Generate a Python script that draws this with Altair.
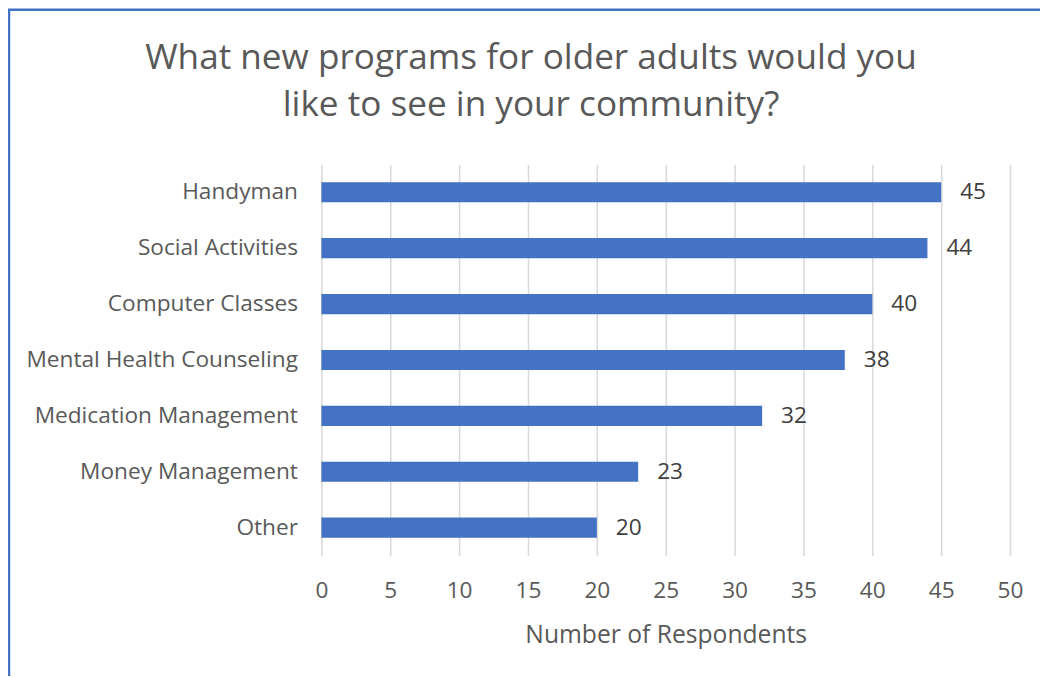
import altair as alt
import pandas as pd

categories = ["Handyman", "Social Activities", "Computer Classes",
              "Mental Health Counseling", "Medication Management",
              "Money Management", "Other"]
values = [45, 44, 40, 38, 32, 23, 20]
x_ticks = [0, 5, 10, 15, 20, 25, 30, 35, 40, 45, 50]
title_lines = ["What new programs for older adults would you",
               "like to see in your community?"]

df = pd.DataFrame({"program": categories, "count": values})
FONT = "Open Sans"

base = alt.Chart(df).encode(
    y=alt.Y("program:N", sort=categories, title=None,
            scale=alt.Scale(paddingInner=0.64, paddingOuter=0.32),
            axis=alt.Axis(domain=False, ticks=False, labelPadding=24,
                          labelFontSize=22.7, labelColor="#595959", labelFont=FONT,
                          labelLimit=400)),
)

bars = base.mark_bar(color="#4472C4").encode(
    x=alt.X("count:Q", title="Number of Respondents",
            scale=alt.Scale(domain=[0, 50], nice=False),
            axis=alt.Axis(values=x_ticks, domain=False, ticks=False,
                          gridColor="#d9d9d9", gridWidth=1.5, labelFlush=False,
                          labelPadding=24, labelFontSize=22.7, labelColor="#595959",
                          labelFont=FONT, titleFont=FONT, titleFontSize=24.7,
                          titleColor="#595959", titleFontWeight="normal",
                          titlePadding=20))
)

labels = base.mark_text(align="left", dx=19, fontSize=22.7, color="#404040",
                        font=FONT).encode(
    x=alt.X("count:Q"), text=alt.Text("count:Q")
)

title1 = alt.Chart(pd.DataFrame({"t": [title_lines[0]]})).mark_text(
    fontSize=35.2, font=FONT, color="#595959", align="center", baseline="middle"
).encode(text="t:N", x=alt.value(210), y=alt.value(-107))
title2 = alt.Chart(pd.DataFrame({"t": [title_lines[1]]})).mark_text(
    fontSize=35.2, font=FONT, color="#595959", align="center", baseline="middle"
).encode(text="t:N", x=alt.value(210), y=alt.value(-59))

frame_df = pd.DataFrame({"k": [0]})
left_line = alt.Chart(frame_df).mark_rule(color="#4472C4", strokeWidth=2.5).encode(
    x=alt.value(-313), y=alt.value(-155), y2=alt.value(700)
)
top_line = alt.Chart(frame_df).mark_rule(color="#4472C4", strokeWidth=2.5).encode(
    x=alt.value(-314), x2=alt.value(900), y=alt.value(-155)
)

chart = alt.layer(bars, labels, title1, title2, left_line, top_line).properties(
    width=690, height=392,
    padding={"left": 314, "top": 156, "right": 30, "bottom": 120},
    autosize=alt.AutoSizeParams(type="none"),
).configure_view(stroke=None)

chart.save("out.html", embed_options={"renderer": "svg", "actions": False})
